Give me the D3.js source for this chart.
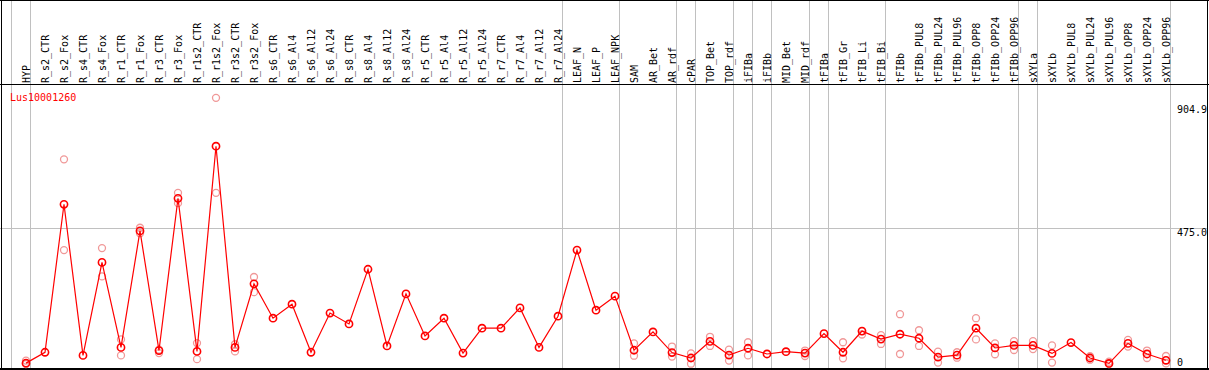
<!DOCTYPE html>
<html><head><meta charset="utf-8">
<script src="https://cdn.jsdelivr.net/npm/d3@7"></script>
<style>body{margin:0;background:#fff}svg{display:block}text{font-family:"DejaVu Sans Mono",monospace;font-size:10px}</style>
</head><body><svg id="c" width="1209" height="370"></svg>
<script>
const categories=["HYP","R_s2_CTR","R_s2_Fox","R_s4_CTR","R_s4_Fox","R_r1_CTR","R_r1_Fox","R_r3_CTR","R_r3_Fox","R_r1s2_CTR","R_r1s2_Fox","R_r3s2_CTR","R_r3s2_Fox","R_s6_CTR","R_s6_Al4","R_s6_Al12","R_s6_Al24","R_s8_CTR","R_s8_Al4","R_s8_Al12","R_s8_Al24","R_r5_CTR","R_r5_Al4","R_r5_Al12","R_r5_Al24","R_r7_CTR","R_r7_Al4","R_r7_Al12","R_r7_Al24","LEAF_N","LEAF_P","LEAF_NPK","SAM","AR_Bet","AR_rdf","cPAR","TOP_Bet","TOP_rdf","iFIBa","iFIBb","MID_Bet","MID_rdf","tFIBa","tFIB_Gr","tFIB_Li","tFIB_Bi","tFIBb","tFIBb_PUL8","tFIBb_PUL24","tFIBb_PUL96","tFIBb_OPP8","tFIBb_OPP24","tFIBb_OPP96","sXYLa","sXYLb","sXYLb_PUL8","sXYLb_PUL24","sXYLb_PUL96","sXYLb_OPP8","sXYLb_OPP24","sXYLb_OPP96"];
const meanValues=[3,41,558,30,355,58,465,47,579,44,761,58,280,160,209,41,178,140,331,63,245,98,160,38,125,125,196,58,167,398,188,237,48,112,40,21,79,31,55,35,43,38,106,41,115,87,104,90,24,31,125,56,65,65,37,75,21,2,72,35,13];
const rep1=[12,null,715,null,405,86,476,50,598,73,930,69,304,null,null,null,null,null,null,null,null,null,null,null,null,null,null,null,null,null,null,null,72,null,61,37,95,50,76,null,null,47,null,76,103,101,174,118,43,41,160,72,80,80,65,null,27,8,84,47,28];
const rep2=[0,null,398,null,306,30,457,38,562,17,598,44,251,null,null,null,null,null,null,null,null,null,null,null,null,null,null,null,null,null,null,null,29,null,26,1,63,12,30,null,null,28,null,20,115,70,35,63,5,22,86,34,49,52,5,null,15,0,61,21,2];
const groupStarts=["HYP","R_s2_CTR","LEAF_N","SAM","cPAR","TOP_Bet","iFIBa","iFIBb","MID_Bet","tFIBa","tFIB_Gr","tFIBb","sXYLa","sXYLb"];
const tickValues=[0,475.0,904.9];
const tickLabels=["0","475.0","904.9"];
const geneName="Lus10001260";

const svg=d3.select("#c");
const x=d3.scaleBand().domain(categories).range([11,11+categories.length*19]).paddingInner(0).paddingOuter(0);
const px=c=>x(c)+15;
const y=d3.scaleLinear().domain([0,904.9]).range([364,105]);
const grey="#c0c0c0";

// vertical separators
const seps=groupStarts.map(c=>x(c)).concat([x.range()[1]]);
svg.selectAll(".vs").data(seps).enter().append("line")
 .attr("x1",d=>d+0.5).attr("x2",d=>d+0.5).attr("y1",0).attr("y2",370)
 .attr("stroke",grey).attr("stroke-width",1);
// horizontal grid at 475
svg.append("line").attr("x1",0).attr("x2",1208).attr("y1",Math.round(y(475))+0.5).attr("y2",Math.round(y(475))+0.5).attr("stroke",grey);

// header labels
svg.selectAll(".cl").data(categories).enter().append("text")
 .attr("transform",d=>`translate(${px(d)+4},83) rotate(-90)`)
 .attr("fill","#000").text(d=>d);

// frame
svg.append("line").attr("x1",0).attr("x2",1209).attr("y1",0.5).attr("y2",0.5).attr("stroke","#000");
svg.append("line").attr("x1",0).attr("x2",1209).attr("y1",84.5).attr("y2",84.5).attr("stroke","#000");
svg.append("line").attr("x1",0).attr("x2",1209).attr("y1",369).attr("y2",369).attr("stroke","#000").attr("stroke-width",2);
svg.append("line").attr("x1",1.5).attr("x2",1.5).attr("y1",0).attr("y2",370).attr("stroke","#000");
svg.append("line").attr("x1",1207.5).attr("x2",1207.5).attr("y1",0).attr("y2",370).attr("stroke","#000");

// right axis labels
const tl=[112,236,366];
svg.selectAll(".yl").data(tickValues).enter().append("text")
 .attr("x",1177).attr("y",(d,i)=>Math.min(y(d)+8,366)).attr("fill","#000").text((d,i)=>tickLabels[i]);

// gene name
svg.append("text").attr("x",10).attr("y",101).attr("fill","#ff0000").text(geneName);

// replicates
const reps=[];
categories.forEach((c,i)=>{[rep1[i],rep2[i]].forEach(v=>{if(v!==null)reps.push({c,v});});});
svg.selectAll(".rp").data(reps).enter().append("circle")
 .attr("cx",d=>px(d.c)).attr("cy",d=>y(d.v)).attr("r",3.5)
 .attr("fill","none").attr("stroke","#f09898").attr("stroke-width",1.3);

// line
const line=d3.line().x((d,i)=>px(categories[i])).y(d=>y(d));
svg.append("path").datum(meanValues).attr("d",line).attr("fill","none").attr("stroke","#ff0000").attr("stroke-width",1.2);
svg.selectAll(".mp").data(meanValues).enter().append("circle")
 .attr("cx",(d,i)=>px(categories[i])).attr("cy",d=>y(d)).attr("r",3.6)
 .attr("fill","none").attr("stroke","#ff0000").attr("stroke-width",1.6);
</script></body></html>
